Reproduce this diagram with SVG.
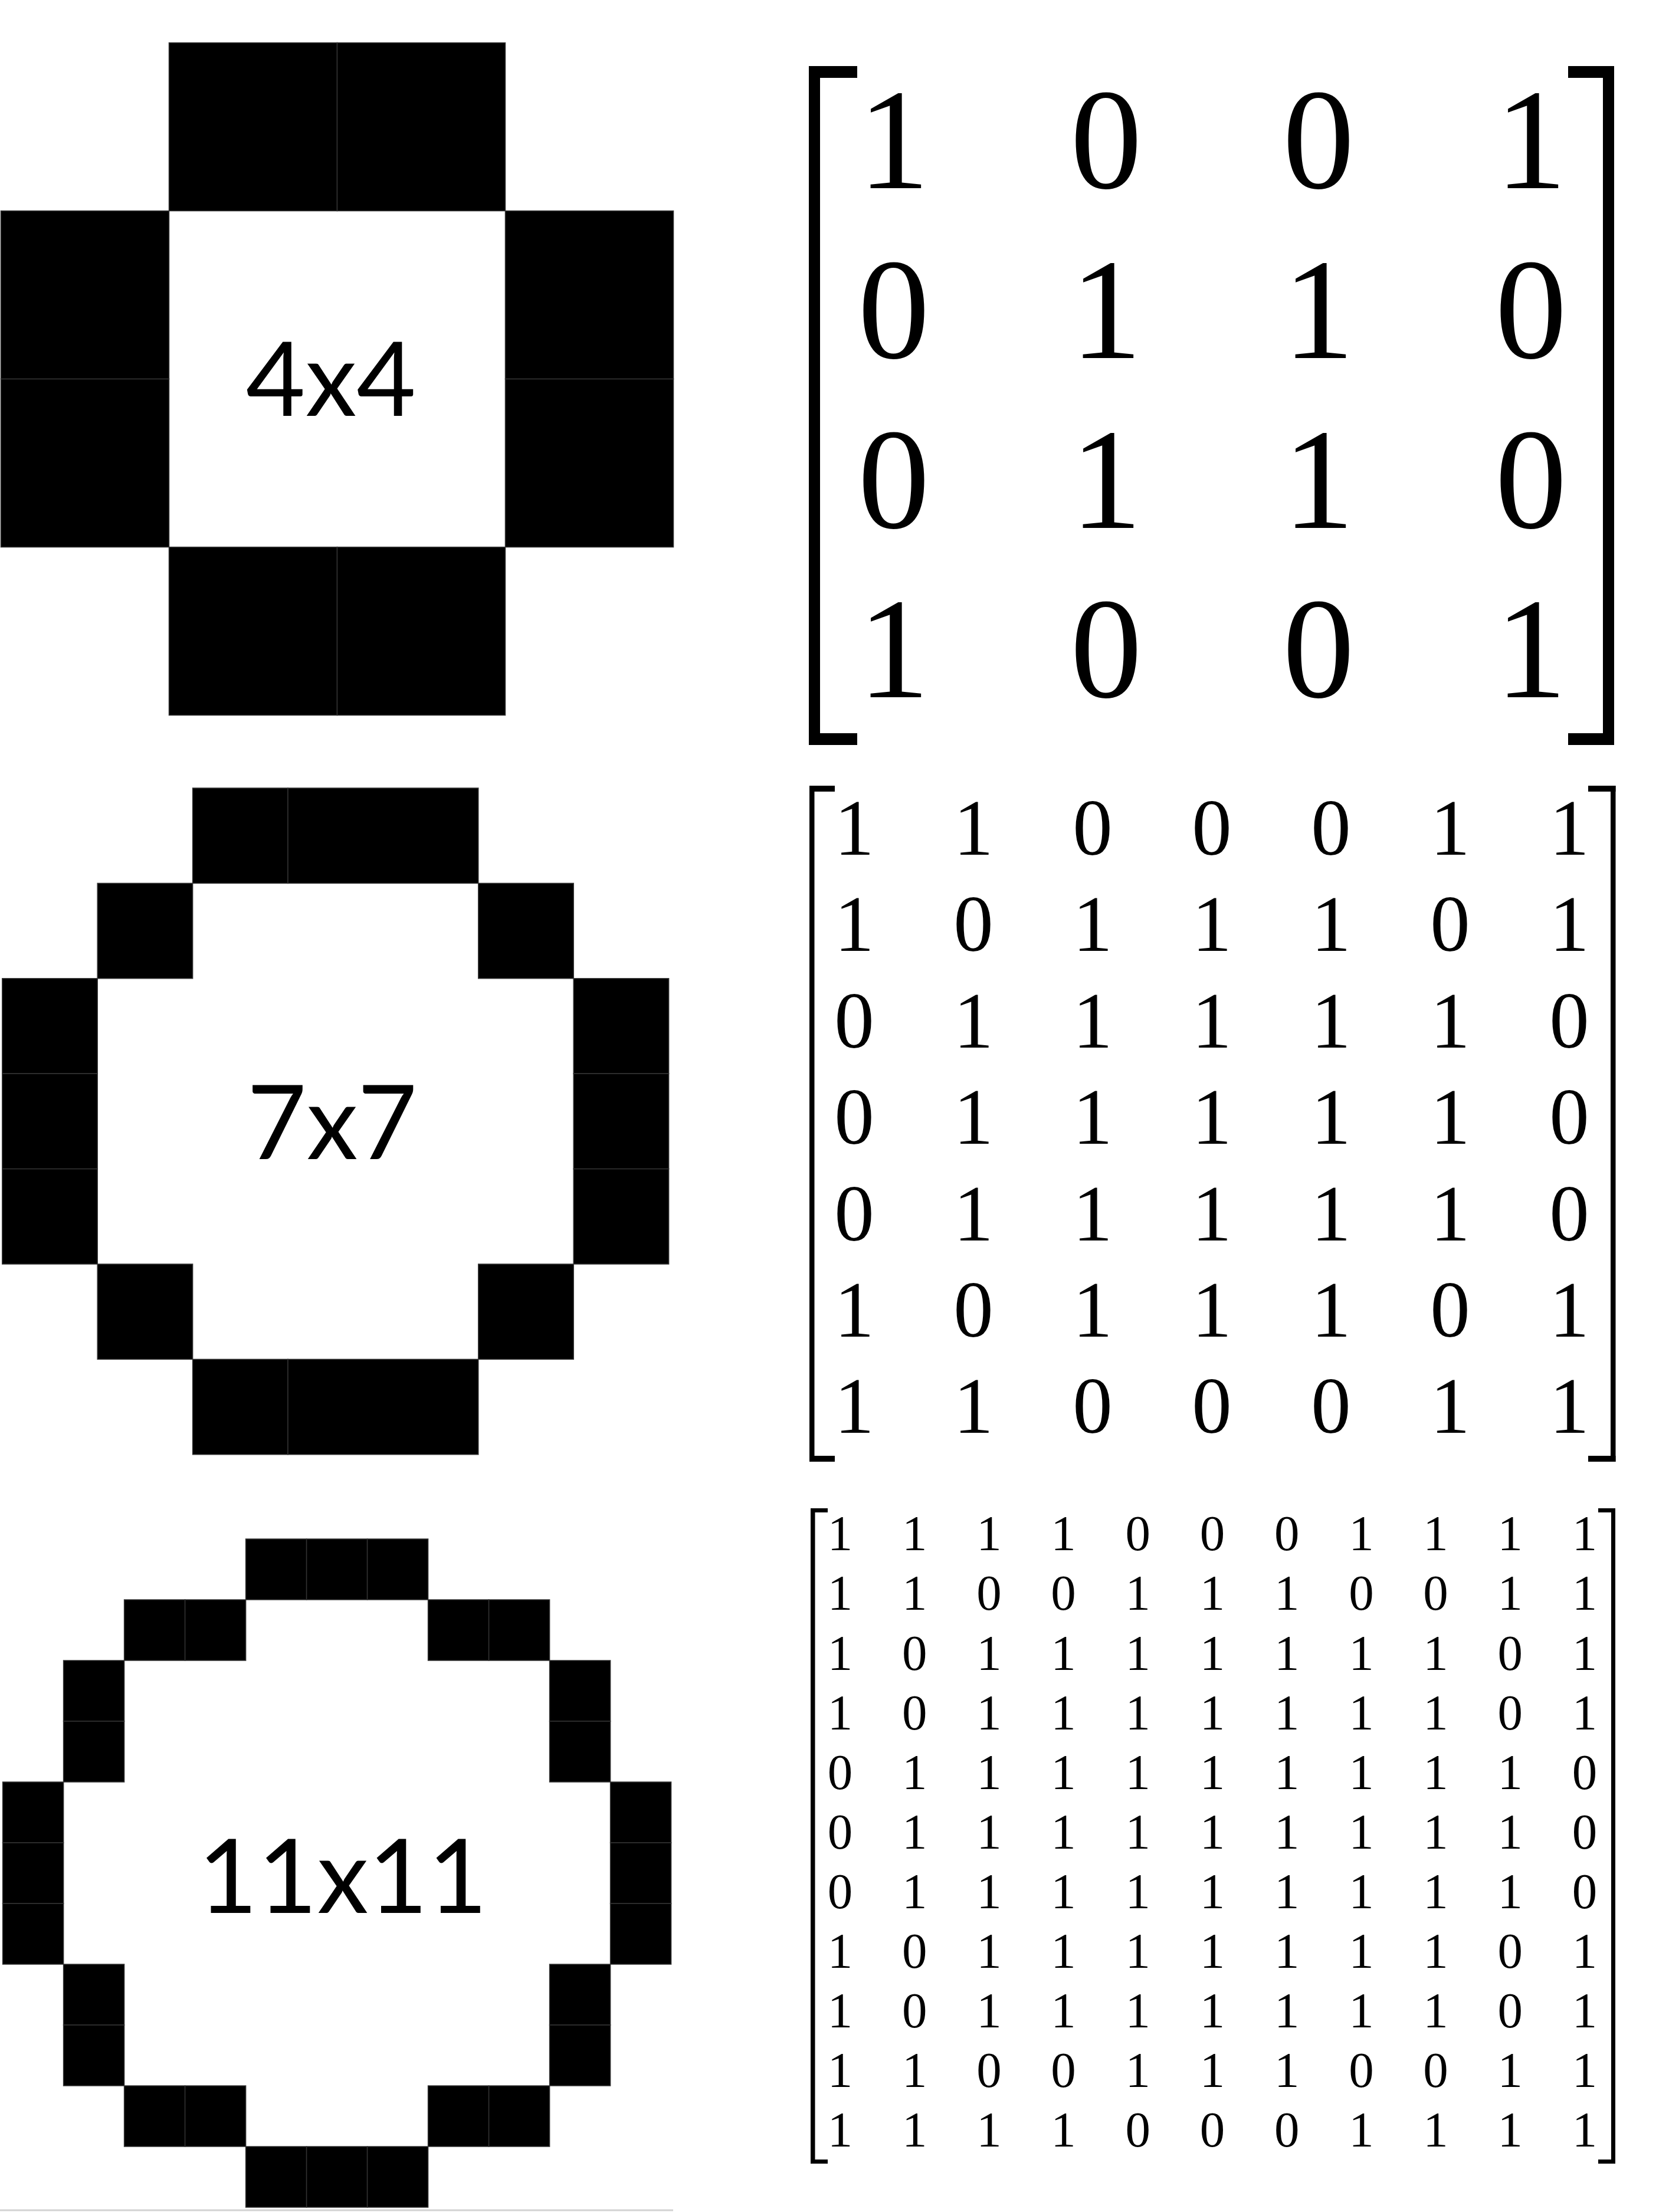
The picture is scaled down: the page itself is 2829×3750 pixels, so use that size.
<svg xmlns="http://www.w3.org/2000/svg" width="2829" height="3750" viewBox="0 0 2829 3750">
<style>
.cell{fill:#000;stroke:#333;stroke-width:1.5}
.br{fill:#000}
.lbl{font-family:Lato,"Liberation Sans",sans-serif;font-size:174px;fill:#000;text-anchor:middle}
.m4{font-family:"Liberation Serif","DejaVu Serif",serif;font-size:243px;fill:#000;text-anchor:middle}
.m7{font-family:"Liberation Serif","DejaVu Serif",serif;font-size:135px;fill:#000;text-anchor:middle}
.m11{font-family:"Liberation Serif","DejaVu Serif",serif;font-size:85px;fill:#000;text-anchor:middle}
</style>
<rect x="0" y="0" width="2829" height="3750" fill="#fff"/>

<g id="shape-4x4">
<rect class="cell" x="286.5" y="72.5" width="285" height="285"/>
<rect class="cell" x="571.5" y="72.5" width="285" height="285"/>
<rect class="cell" x="1.5" y="357.5" width="285" height="285"/>
<rect class="cell" x="856.5" y="357.5" width="285" height="285"/>
<rect class="cell" x="1.5" y="642.5" width="285" height="285"/>
<rect class="cell" x="856.5" y="642.5" width="285" height="285"/>
<rect class="cell" x="286.5" y="927.5" width="285" height="285"/>
<rect class="cell" x="571.5" y="927.5" width="285" height="285"/>
<text class="lbl" x="561" y="705">4x4</text>
</g>

<g id="shape-7x7">
<rect class="cell" x="326.6" y="1336" width="161.4" height="161.4"/>
<rect class="cell" x="488" y="1336" width="322.8" height="161.4"/>
<rect class="cell" x="165.2" y="1497.4" width="161.4" height="161.4"/>
<rect class="cell" x="810.8" y="1497.4" width="161.4" height="161.4"/>
<rect class="cell" x="3.8" y="1658.8" width="161.4" height="161.4"/>
<rect class="cell" x="972.2" y="1658.8" width="161.4" height="161.4"/>
<rect class="cell" x="3.8" y="1820.2" width="161.4" height="161.4"/>
<rect class="cell" x="972.2" y="1820.2" width="161.4" height="161.4"/>
<rect class="cell" x="3.8" y="1981.6" width="161.4" height="161.4"/>
<rect class="cell" x="972.2" y="1981.6" width="161.4" height="161.4"/>
<rect class="cell" x="165.2" y="2143" width="161.4" height="161.4"/>
<rect class="cell" x="810.8" y="2143" width="161.4" height="161.4"/>
<rect class="cell" x="326.6" y="2304.4" width="161.4" height="161.4"/>
<rect class="cell" x="488" y="2304.4" width="322.8" height="161.4"/>
<text class="lbl" x="563" y="1965">7x7</text>
</g>

<g id="shape-11x11">
<rect class="cell" x="416.6" y="2609" width="103" height="103"/>
<rect class="cell" x="519.6" y="2609" width="103" height="103"/>
<rect class="cell" x="622.6" y="2609" width="103" height="103"/>
<rect class="cell" x="210.6" y="2712" width="103" height="103"/>
<rect class="cell" x="313.6" y="2712" width="103" height="103"/>
<rect class="cell" x="725.6" y="2712" width="103" height="103"/>
<rect class="cell" x="828.6" y="2712" width="103" height="103"/>
<rect class="cell" x="107.6" y="2815" width="103" height="103"/>
<rect class="cell" x="931.6" y="2815" width="103" height="103"/>
<rect class="cell" x="107.6" y="2918" width="103" height="103"/>
<rect class="cell" x="931.6" y="2918" width="103" height="103"/>
<rect class="cell" x="4.6" y="3021" width="103" height="103"/>
<rect class="cell" x="1034.6" y="3021" width="103" height="103"/>
<rect class="cell" x="4.6" y="3124" width="103" height="103"/>
<rect class="cell" x="1034.6" y="3124" width="103" height="103"/>
<rect class="cell" x="4.6" y="3227" width="103" height="103"/>
<rect class="cell" x="1034.6" y="3227" width="103" height="103"/>
<rect class="cell" x="107.6" y="3330" width="103" height="103"/>
<rect class="cell" x="931.6" y="3330" width="103" height="103"/>
<rect class="cell" x="107.6" y="3433" width="103" height="103"/>
<rect class="cell" x="931.6" y="3433" width="103" height="103"/>
<rect class="cell" x="210.6" y="3536" width="103" height="103"/>
<rect class="cell" x="313.6" y="3536" width="103" height="103"/>
<rect class="cell" x="725.6" y="3536" width="103" height="103"/>
<rect class="cell" x="828.6" y="3536" width="103" height="103"/>
<rect class="cell" x="416.6" y="3639" width="103" height="103"/>
<rect class="cell" x="519.6" y="3639" width="103" height="103"/>
<rect class="cell" x="622.6" y="3639" width="103" height="103"/>
<text class="lbl" x="581" y="3243">11x11</text>
</g>
<line x1="0" y1="3747" x2="1141" y2="3747" stroke="#d2d2d2" stroke-width="3"/>

<g id="matrix-4x4">
<rect class="br" x="1371" y="112" width="19" height="1151"/>
<rect class="br" x="1371" y="112" width="82" height="20"/>
<rect class="br" x="1371" y="1243" width="82" height="20"/>
<rect class="br" x="2717" y="112" width="19" height="1151"/>
<rect class="br" x="2658" y="112" width="78" height="20"/>
<rect class="br" x="2658" y="1243" width="78" height="20"/>
<text class="m4" x="1515 1875 2235 2595" y="319">1001</text>
<text class="m4" x="1515 1875 2235 2595" y="607">0110</text>
<text class="m4" x="1515 1875 2235 2595" y="895">0110</text>
<text class="m4" x="1515 1875 2235 2595" y="1182">1001</text>
</g>

<g id="matrix-7x7">
<rect class="br" x="1372" y="1332" width="8.5" height="1146"/>
<rect class="br" x="1372" y="1332" width="43" height="10"/>
<rect class="br" x="1372" y="2468" width="43" height="10"/>
<rect class="br" x="2730" y="1332" width="8.5" height="1146"/>
<rect class="br" x="2692" y="1332" width="46.5" height="10"/>
<rect class="br" x="2692" y="2468" width="46.5" height="10"/>
<text class="m7" x="1448 1650 1852 2054 2256 2458 2660" y="1449">1100011</text>
<text class="m7" x="1448 1650 1852 2054 2256 2458 2660" y="1612.4">1011101</text>
<text class="m7" x="1448 1650 1852 2054 2256 2458 2660" y="1775.8">0111110</text>
<text class="m7" x="1448 1650 1852 2054 2256 2458 2660" y="1939.2">0111110</text>
<text class="m7" x="1448 1650 1852 2054 2256 2458 2660" y="2102.6">0111110</text>
<text class="m7" x="1448 1650 1852 2054 2256 2458 2660" y="2266">1011101</text>
<text class="m7" x="1448 1650 1852 2054 2256 2458 2660" y="2429.4">1100011</text>
</g>

<g id="matrix-11x11">
<rect class="br" x="1374" y="2557" width="7.5" height="1111"/>
<rect class="br" x="1374" y="2557" width="29" height="7"/>
<rect class="br" x="1374" y="3661" width="29" height="7"/>
<rect class="br" x="2731" y="2557" width="7" height="1111"/>
<rect class="br" x="2709" y="2557" width="29" height="7"/>
<rect class="br" x="2709" y="3661" width="29" height="7"/>
<text class="m11" x="1424 1550.2 1676.4 1802.6 1928.8 2055 2181.2 2307.4 2433.6 2559.8 2686" y="2628.3">11110001111</text>
<text class="m11" x="1424 1550.2 1676.4 1802.6 1928.8 2055 2181.2 2307.4 2433.6 2559.8 2686" y="2729.4">11001110011</text>
<text class="m11" x="1424 1550.2 1676.4 1802.6 1928.8 2055 2181.2 2307.4 2433.6 2559.8 2686" y="2830.5">10111111101</text>
<text class="m11" x="1424 1550.2 1676.4 1802.6 1928.8 2055 2181.2 2307.4 2433.6 2559.8 2686" y="2931.6">10111111101</text>
<text class="m11" x="1424 1550.2 1676.4 1802.6 1928.8 2055 2181.2 2307.4 2433.6 2559.8 2686" y="3032.7">01111111110</text>
<text class="m11" x="1424 1550.2 1676.4 1802.6 1928.8 2055 2181.2 2307.4 2433.6 2559.8 2686" y="3133.8">01111111110</text>
<text class="m11" x="1424 1550.2 1676.4 1802.6 1928.8 2055 2181.2 2307.4 2433.6 2559.8 2686" y="3234.9">01111111110</text>
<text class="m11" x="1424 1550.2 1676.4 1802.6 1928.8 2055 2181.2 2307.4 2433.6 2559.8 2686" y="3336">10111111101</text>
<text class="m11" x="1424 1550.2 1676.4 1802.6 1928.8 2055 2181.2 2307.4 2433.6 2559.8 2686" y="3437.1">10111111101</text>
<text class="m11" x="1424 1550.2 1676.4 1802.6 1928.8 2055 2181.2 2307.4 2433.6 2559.8 2686" y="3538.2">11001110011</text>
<text class="m11" x="1424 1550.2 1676.4 1802.6 1928.8 2055 2181.2 2307.4 2433.6 2559.8 2686" y="3639.3">11110001111</text>
</g>

<g id="connectors"></g>
</svg>
